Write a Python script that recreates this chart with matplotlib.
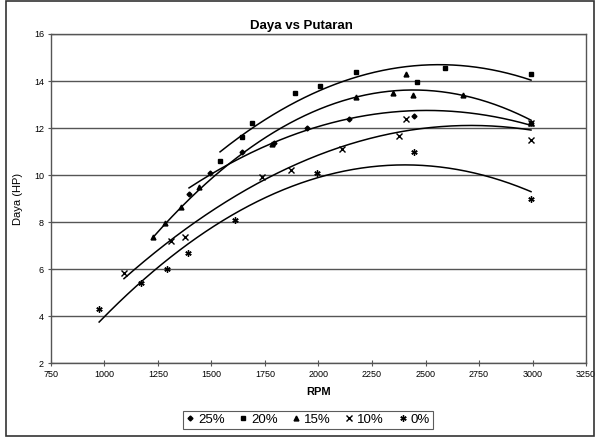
import matplotlib
matplotlib.use('Agg')
import matplotlib.pyplot as plt
import numpy as np
from matplotlib.patches import Rectangle

plt.rcParams['font.family'] = ['Liberation Sans', 'DejaVu Sans']

# data (rpm, daya in HP)
rpm_25 = [1395, 1493, 1643, 1792, 1946, 2143, 2446, 2993]
hp_25 = [9.2, 10.1, 11.0, 11.36, 12.0, 12.4, 12.5, 12.2]

rpm_20 = [1540, 1643, 1690, 1890, 2007, 2175, 2460, 2591, 2993]
hp_20 = [10.6, 11.6, 12.2, 13.5, 13.8, 14.4, 13.96, 14.55, 14.3]

rpm_15 = [1226, 1283, 1357, 1443, 1783, 2175, 2348, 2409, 2442, 2675, 2993]
hp_15 = [7.36, 7.96, 8.64, 9.5, 11.3, 13.3, 13.5, 14.3, 13.4, 13.4, 12.2]

rpm_10 = [1091, 1311, 1376, 1736, 1871, 2110, 2376, 2409, 2993, 2993]
hp_10 = [5.83, 7.2, 7.36, 9.9, 10.2, 11.1, 11.66, 12.4, 11.5, 12.2]

rpm_0 = [975, 1170, 1290, 1390, 1610, 1993, 2446, 2993]
hp_0 = [4.3, 5.4, 6.0, 6.7, 8.1, 10.1, 11.0, 8.98]

labels = ['25%', '20%', '15%', '10%', '0%']
markers = ['D', 's', '^', 'x', (6, 2, 0)]
msizes = [2.5, 3.5, 3.5, 4, 4.5]

xticks = [750, 1000, 1250, 1500, 1750, 2000, 2250, 2500, 2750, 3000, 3250]
yticks = [2, 4, 6, 8, 10, 12, 14, 16]

fig = plt.figure(figsize=(5.97, 4.37), dpi=100)
ax = fig.add_axes([0.0854, 0.1693, 0.8962, 0.7529])

series = [(rpm_25, hp_25), (rpm_20, hp_20), (rpm_15, hp_15), (rpm_10, hp_10), (rpm_0, hp_0)]
for (x, y), lab, m, ms in zip(series, labels, markers, msizes):
    x = np.array(x, dtype=float)
    y = np.array(y, dtype=float)
    ax.plot(x, y, linestyle='none', marker=m, ms=ms, color='black',
            mec='black', mew=1.0, label=lab)
    # 2nd order trendline like excel
    c = np.polyfit(x, y, 2)
    xx = np.linspace(x.min(), x.max(), 200)
    ax.plot(xx, np.polyval(c, xx), color='black', lw=1.1)

ax.set_xlim(750, 3250)
ax.set_ylim(2, 16)
ax.set_xticks(xticks)
ax.set_yticks(yticks)
ax.yaxis.grid(True, color='#555555', lw=1.0)
ax.set_axisbelow(True)
for s in ax.spines.values():
    s.set_color('#555555')
    s.set_linewidth(1.0)
ax.tick_params(direction='inout', length=4, width=0.8, color='#555555',
               labelsize=6.5, pad=3)

ax.set_xlabel('RPM', fontsize=8, fontweight='bold', labelpad=6)
ax.set_ylabel('Daya (HP)', fontsize=8, labelpad=8)
fig.text(0.505, 0.94, 'Daya vs Putaran', ha='center', va='center',
         fontsize=9.5, fontweight='bold')

leg = fig.legend(loc='center', bbox_to_anchor=(0.516, 0.039), ncol=5,
                 fontsize=9.5, frameon=True, fancybox=False, handlelength=0.6,
                 handletextpad=0.3, columnspacing=1.1, borderpad=0.25)
leg.get_frame().set_edgecolor('#333333')
leg.get_frame().set_linewidth(0.8)

fig.patches.append(Rectangle((0.01, 0.003), 0.985, 0.994, transform=fig.transFigure,
                             fill=False, edgecolor='#333333', lw=1.2))

fig.savefig('out.png', dpi=100)
